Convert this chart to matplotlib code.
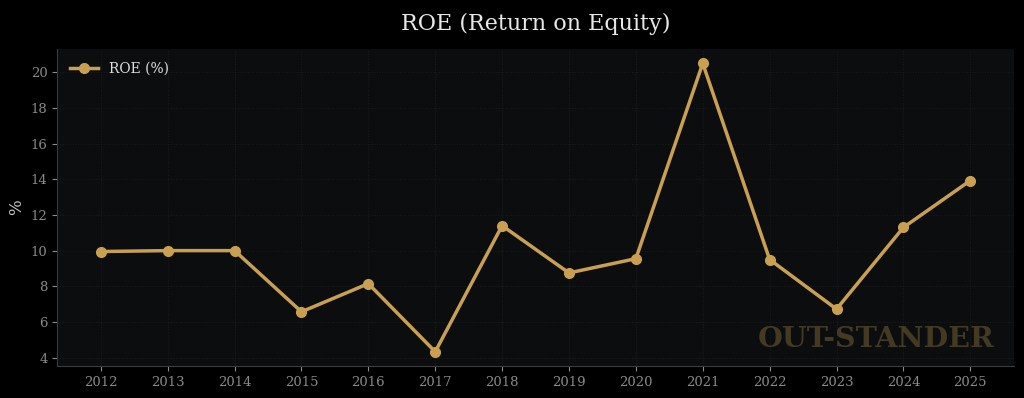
import matplotlib.pyplot as plt

plt.rcParams['font.family'] = 'DejaVu Serif'

# ROE by year
years = [2012, 2013, 2014, 2015, 2016, 2017, 2018, 2019, 2020, 2021, 2022, 2023, 2024, 2025]
roe = [9.95, 10.0, 10.0, 6.57, 8.15, 4.33, 11.4, 8.75, 9.55, 20.5, 9.5, 6.72, 11.3, 13.93]

gold = '#c9a052'

fig, ax = plt.subplots(figsize=(10.24, 3.98), dpi=100)
fig.patch.set_facecolor('#000000')
ax.set_facecolor('#0b0d0f')

ax.plot(years, roe, color=gold, linewidth=2.5, marker='o', markersize=7, label='ROE (%)')

ax.set_title('ROE (Return on Equity)', color='#e8e8e8', fontsize=16, pad=14)
ax.set_ylabel('%', color='#cccccc', fontsize=12)
ax.set_xticks(years)
ax.set_yticks(range(4, 21, 2))
ax.tick_params(colors='#8a8a8a', labelsize=9.5)
ax.grid(True, color='#1a1c1f', linewidth=0.7, linestyle=':')
for side in ['top', 'right']:
    ax.spines[side].set_visible(False)
for side in ['left', 'bottom']:
    ax.spines[side].set_color('#3a3a3a')

leg = ax.legend(loc='upper left', frameon=False, fontsize=10)
for t in leg.get_texts():
    t.set_color('#e0e0e0')

ax.text(0.98, 0.04, 'OUT-STANDER', transform=ax.transAxes, ha='right', va='bottom',
        fontsize=20.5, fontweight='bold', color=gold, alpha=0.3)

fig.subplots_adjust(left=0.056, right=0.99, top=0.877, bottom=0.08)
fig.savefig('out.png', dpi=100, facecolor=fig.get_facecolor())
